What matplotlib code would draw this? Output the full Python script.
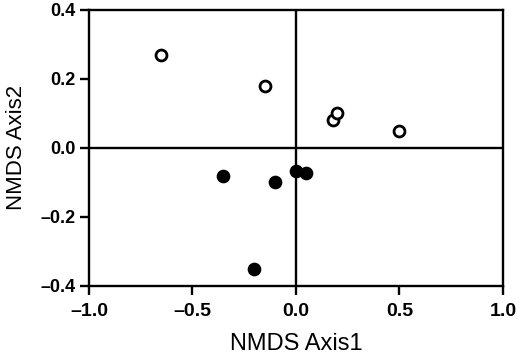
import matplotlib.pyplot as plt

# open circles (group 1)
open_x = [-0.65, -0.15, 0.18, 0.20, 0.50]
open_y = [0.27, 0.18, 0.08, 0.10, 0.05]
# filled circles (group 2)
fill_x = [-0.35, -0.10, 0.00, 0.05, -0.20]
fill_y = [-0.08, -0.10, -0.068, -0.072, -0.35]

xticks = [-1.0, -0.5, 0.0, 0.5, 1.0]
yticks = [-0.4, -0.2, 0.0, 0.2, 0.4]

plt.rcParams["font.family"] = ["Liberation Sans", "DejaVu Sans"]

fig = plt.figure(figsize=(5.2, 3.56), dpi=100)
ax = fig.add_axes([0.171, 0.197, 0.796, 0.775])

ax.axhline(0, color="black", lw=1.7, zorder=1)
ax.axvline(0, color="black", lw=1.7, zorder=1)

ax.scatter(open_x, open_y, s=62, facecolors="white", edgecolors="black",
           linewidths=2.0, zorder=3)
ax.scatter(fill_x, fill_y, s=78, color="black", zorder=3)

ax.set_xlim(-1.0, 1.0)
ax.set_ylim(-0.4, 0.4)
ax.set_xticks(xticks)
ax.set_yticks(yticks)
ax.set_xticklabels([f"{v:.1f}".replace("-", "\u2013") for v in xticks],
                   fontweight="bold", fontsize=14)
ax.set_yticklabels([f"{v:.1f}".replace("-", "\u2013") for v in yticks],
                   fontweight="bold", fontsize=13)
ax.tick_params(direction="out", length=6.5, width=1.7)
ax.tick_params(axis="x", pad=6)
ax.tick_params(axis="y", pad=3)

for sp in ax.spines.values():
    sp.set_linewidth(1.7)

ax.set_xlabel("NMDS Axis1", fontsize=17, labelpad=9)
ax.set_ylabel("NMDS Axis2", fontsize=16, labelpad=10)

fig.savefig("out.png", dpi=100)
